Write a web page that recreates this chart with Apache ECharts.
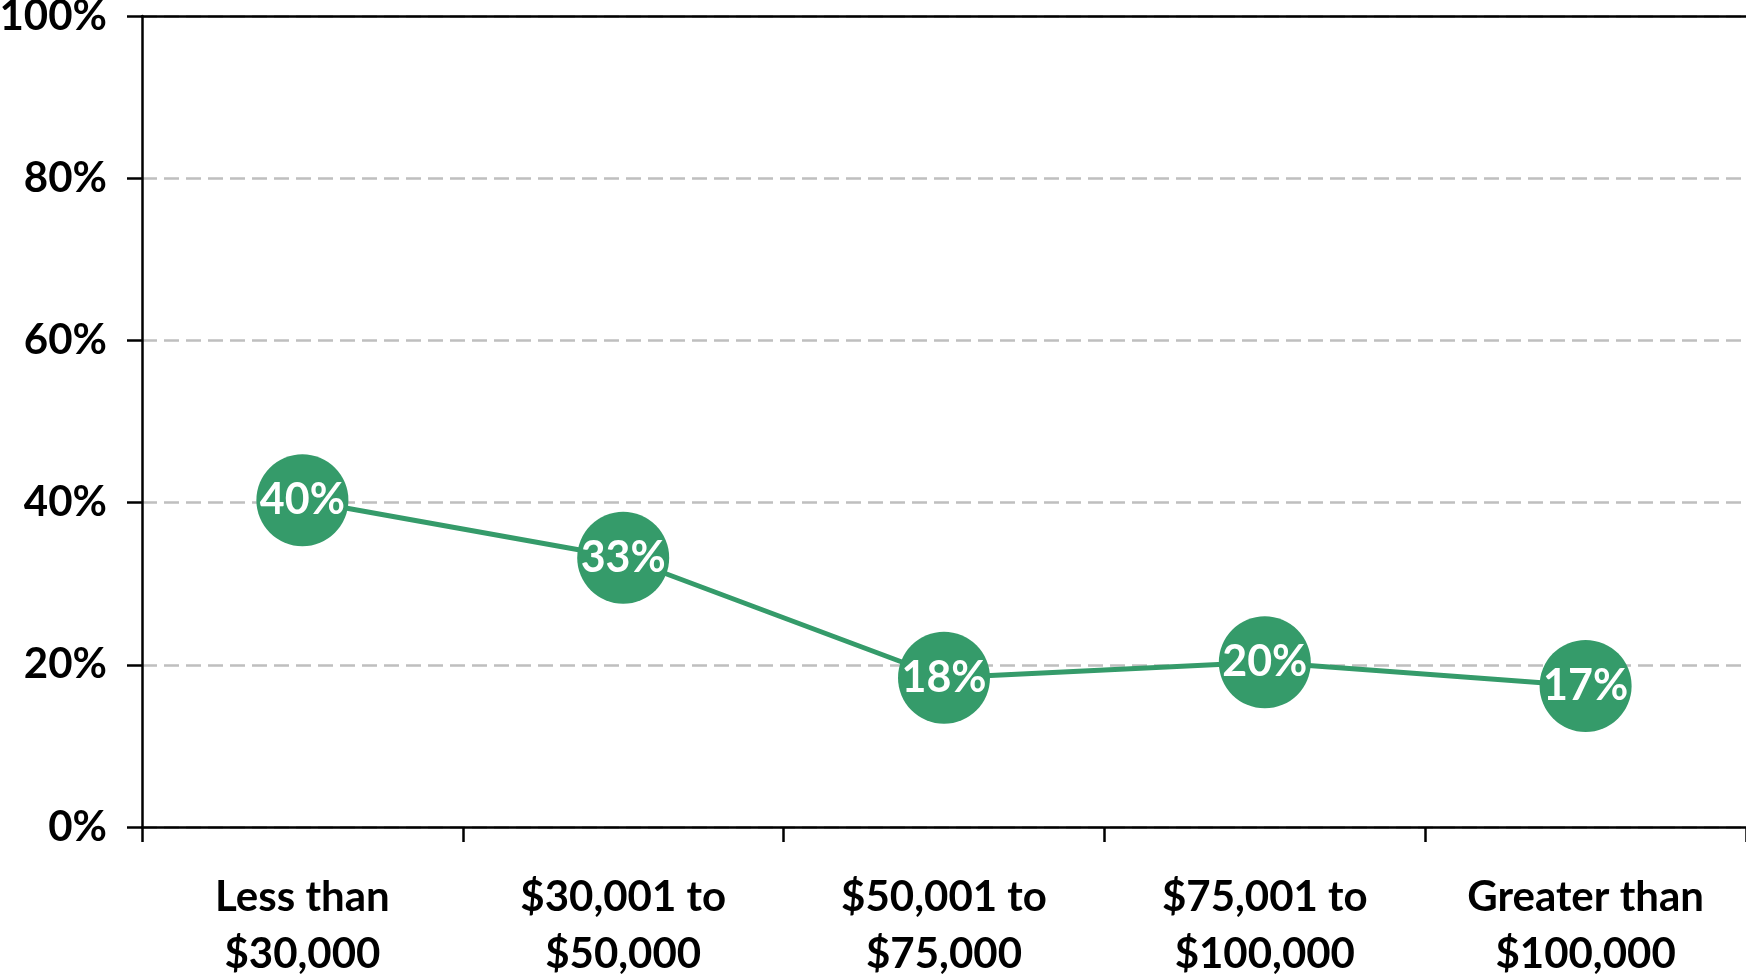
<!DOCTYPE html>
<html>
<head>
<meta charset="utf-8">
<script src="https://cdn.jsdelivr.net/npm/echarts@6/dist/echarts.min.js"></script>
<style>
  html, body { margin: 0; padding: 0; background: #fff; }
  #chart { width: 1746px; height: 977px; }
</style>
</head>
<body>
<div id="chart"></div>
<script>
const categories = ['Less than\n$30,000', '$30,001 to\n$50,000', '$50,001 to\n$75,000', '$75,001 to\n$100,000', 'Greater than\n$100,000'];
const shares = [40.3, 33.2, 18.4, 20.3, 17.4];
const yTicks = [0, 20, 40, 60, 80, 100];

const green = '#359b6a';
const font = 'Lato, "Open Sans", sans-serif';

const chart = echarts.init(document.getElementById('chart'), null, { renderer: 'canvas' });

const option = {
  animation: false,
  grid: { left: 142, right: 0, top: 16, bottom: 150, outerBoundsMode: 'none', containLabel: false },
  xAxis: [{
    type: 'category',
    data: categories,
    boundaryGap: true,
    axisLine: { lineStyle: { color: '#000', width: 2.5 } },
    axisTick: { show: true, interval: 0, length: 15, lineStyle: { color: '#000', width: 2.5 } },
    axisLabel: {
      color: '#000', fontFamily: font, fontWeight: 'bold', fontSize: 42,
      lineHeight: 57, margin: 42, interval: 0
    },
    z: 2
  }, {
    // solid black border along the top of the plot
    type: 'category',
    data: categories,
    position: 'top',
    axisLine: { show: true, lineStyle: { color: '#000', width: 2.5 } },
    axisTick: { show: false },
    axisLabel: { show: false },
    z: 5
  }],
  yAxis: {
    type: 'value',
    min: yTicks[0], max: yTicks[yTicks.length - 1], interval: 20,
    axisLine: { show: true, lineStyle: { color: '#000', width: 2.5 } },
    axisTick: { show: true, length: 15, lineStyle: { color: '#000', width: 2.5 } },
    axisLabel: {
      color: '#000', fontFamily: font, fontWeight: 'bold', fontSize: 42,
      margin: 35, formatter: '{value}%'
    },
    splitLine: { show: true, lineStyle: { color: '#bfbfbf', width: 2.5, type: [15, 7] } }
  },
  series: [{
    type: 'line',
    data: shares,
    symbol: 'circle',
    symbolSize: 92,
    lineStyle: { color: green, width: 5 },
    itemStyle: { color: green },
    z: 10,
    label: {
      show: true, position: 'inside', color: '#fff',
      fontFamily: font, fontWeight: 'bold', fontSize: 43,
      formatter: p => Math.round(p.value) + '%'
    }
  }]
};

chart.setOption(option);
</script>
</body>
</html>
